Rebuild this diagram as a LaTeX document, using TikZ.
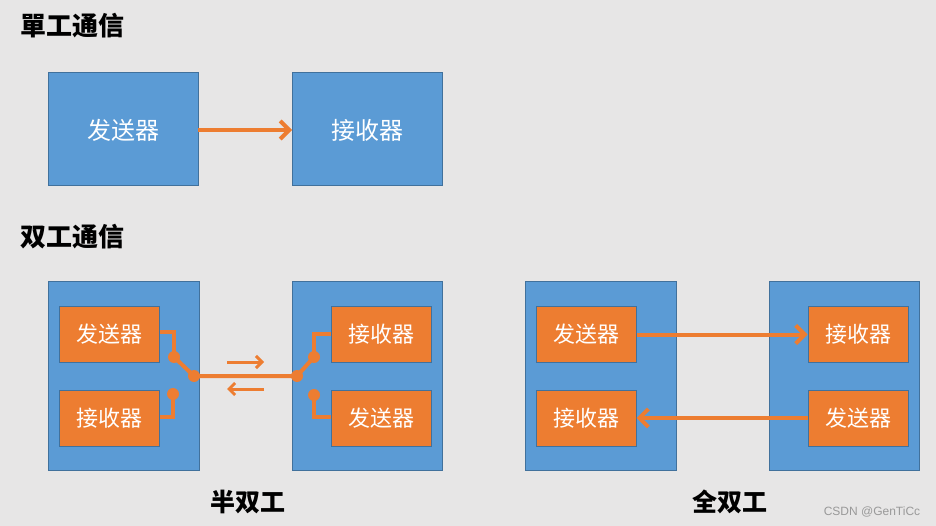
\documentclass[tikz,border=0pt]{standalone}
\usepackage{fontspec}
\newfontfamily\cjk{Noto Sans CJK SC}
\usetikzlibrary{arrows.meta}
\definecolor{bg}{HTML}{E7E6E6}
\definecolor{bblue}{HTML}{5B9BD5}
\definecolor{bedge}{HTML}{41719C}
\definecolor{org}{HTML}{ED7D31}
\tikzset{
  outer/.style={draw=bedge, fill=bblue, line width=1pt},
  inner/.style={draw=bedge, fill=org, line width=1pt, text=white, font=\cjk\fontsize{22}{24}\selectfont},
  big/.style={text=white, font=\cjk\fontsize{24}{26}\selectfont},
  title/.style={font=\cjk\bfseries\fontsize{26}{28}\selectfont, anchor=west},
  arr/.style={draw=org, line width=4pt, -{Straight Barb[length=9pt,width=18pt,line width=4pt]}},
  sarr/.style={draw=org, line width=3pt, -{Straight Barb[length=6pt,width=12pt,line width=3pt]}},
  wire/.style={draw=org, line width=4pt},
  dotn/.style={circle, fill=org, inner sep=0pt, minimum size=12pt},
}
\begin{document}
\begin{tikzpicture}[x=1pt,y=-1pt]
\fill[bg] (0,0) rectangle (936,526);
\useasboundingbox (0,0) rectangle (936,526);
% titles
\node[title] (t1) at (17,26) {單工通信};
\node[title] (t2) at (17,237) {双工通信};
% simplex
\draw[outer] (48,73) rectangle (198,186);
\node[big] (s1) at (123,130) {发送器};
\draw[outer] (292,73) rectangle (442,186);
\node[big] (r1) at (367,130) {接收器};
\coordinate (s1e) at (198,130);
\coordinate (r1w) at (292,130);
\draw[arr] (s1e) -- (r1w);
% half duplex
\draw[outer] (48,282) rectangle (199,470);
\draw[outer] (292,282) rectangle (442,470);
\node[inner, minimum width=100pt, minimum height=55pt, inner sep=0pt] (hs1) at (109,334.5) {发送器};
\node[inner, minimum width=100pt, minimum height=56pt, inner sep=0pt] (hr1) at (109,418) {接收器};
\node[inner, minimum width=100pt, minimum height=55pt, inner sep=0pt] (hr2) at (381,334.5) {接收器};
\node[inner, minimum width=100pt, minimum height=56pt, inner sep=0pt] (hs2) at (381,418) {发送器};
\node[dotn] (d1) at (174,357) {};
\node[dotn] (d2) at (194,376) {};
\node[dotn] (d3) at (173,394) {};
\node[dotn] (d4) at (297,376) {};
\node[dotn] (d5) at (314,357) {};
\node[dotn] (d6) at (314,395) {};
\draw[wire] (hs1.east |- 0,332) -| (d1.center);
\draw[wire] (d1.center) -- (d2.center) -- (d4.center) -- (d5.center);
\draw[wire] (d5.center) |- (hr2.west |- 0,334);
\draw[wire] (d3.center) |- (hr1.east |- 0,417);
\draw[wire] (d6.center) |- (hs2.west |- 0,417);
\coordinate (a1) at (227,362); \coordinate (a2) at (264,362);
\coordinate (b1) at (264,389); \coordinate (b2) at (227,389);
\draw[sarr] (a1) -- (a2);
\draw[sarr] (b1) -- (b2);
\node[font=\cjk\bfseries\fontsize{25}{27}\selectfont] (l1) at (248,502) {半双工};
% full duplex
\draw[outer] (525,282) rectangle (676,470);
\draw[outer] (769,282) rectangle (919,470);
\node[inner, minimum width=100pt, minimum height=55pt, inner sep=0pt] (fs1) at (586,334.5) {发送器};
\node[inner, minimum width=100pt, minimum height=56pt, inner sep=0pt] (fr1) at (586,418) {接收器};
\node[inner, minimum width=100pt, minimum height=55pt, inner sep=0pt] (fr2) at (858,334.5) {接收器};
\node[inner, minimum width=100pt, minimum height=56pt, inner sep=0pt] (fs2) at (858,418) {发送器};
\draw[arr] (fs1) -- (fr2);
\draw[arr] (fs2) -- (fr1);
\node[font=\cjk\bfseries\fontsize{25}{27}\selectfont] (l2) at (730,502) {全双工};
\node[font=\fontspec{Liberation Sans}\fontsize{12}{14}\selectfont, text=gray!80] (wm) at (872,512) {CSDN @GenTiCc};
\end{tikzpicture}
\end{document}
